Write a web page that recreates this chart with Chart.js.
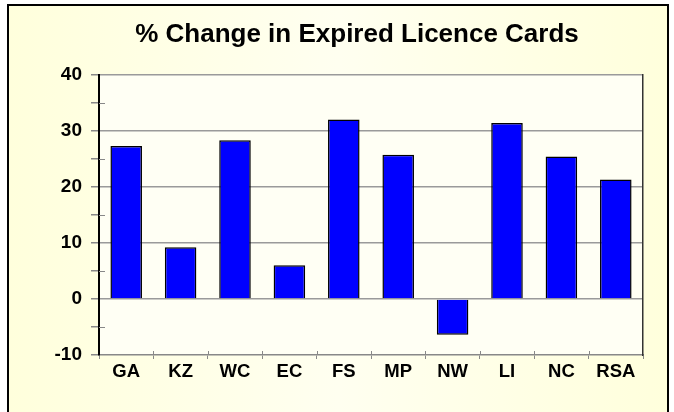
<!DOCTYPE html>
<html>
<head>
<meta charset="utf-8">
<script src="https://cdn.jsdelivr.net/npm/chart.js@4"></script>
<style>
  html, body { margin: 0; padding: 0; background: #fff; }
  #frame { position: absolute; left: 7px; top: 4px; width: 658px; height: 420px; border: 2px solid #000;
    background: linear-gradient(90deg, #ffffdc 0%, #fffff0 50%, #ffffdc 100%); }
  #wrap { position: absolute; left: 0; top: 0; width: 674px; height: 412px; }
</style>
</head>
<body>
<div id="frame"></div>
<div id="wrap"><canvas id="chart" width="674" height="412"></canvas></div>
<script>
const categories = ['GA', 'KZ', 'WC', 'EC', 'FS', 'MP', 'NW', 'LI', 'NC', 'RSA'];
const changeValues = [27.3, 9.2, 28.3, 6.0, 32.0, 25.7, -6.4, 31.4, 25.4, 21.3];
const yMin = -10, yMax = 40, yStep = 5, yLabelStep = 10;

const FONT = "'Liberation Sans', Arial, sans-serif";

// plot area fill and the tick marks that cross into the plot
const plotFrame = {
  id: 'plotFrame',
  beforeDraw(chart) {
    const { ctx, chartArea: a } = chart;
    ctx.save();
    ctx.fillStyle = '#fffff4';
    ctx.fillRect(a.left, a.top, a.right - a.left, a.bottom - a.top);
    ctx.restore();
  },
  afterDraw(chart) {
    const { ctx, chartArea: a, scales } = chart;
    ctx.save();
    ctx.strokeStyle = '#888';
    ctx.lineWidth = 1;
    ctx.beginPath();
    scales.y.ticks.forEach(t => {
      if (t.value % yLabelStep !== 0) {
        const y = Math.round(scales.y.getPixelForValue(t.value)) + 0.5;
        ctx.moveTo(a.left, y); ctx.lineTo(a.left + 6, y);
      }
    });
    for (let i = 1; i < categories.length; i++) {
      const x = Math.round((scales.x.getPixelForValue(i - 1) + scales.x.getPixelForValue(i)) / 2) + 0.5;
      ctx.moveTo(x, a.bottom); ctx.lineTo(x, a.bottom - 4);
    }
    ctx.stroke();
    ctx.restore();
  }
};

new Chart(document.getElementById('chart'), {
  type: 'bar',
  data: {
    labels: categories,
    datasets: [{
      data: changeValues,
      backgroundColor: '#0000ff',
      borderColor: '#000',
      borderWidth: 1.5,
      barPercentage: 0.58,
      categoryPercentage: 1
    }]
  },
  options: {
    responsive: false,
    animation: false,
    layout: { padding: { left: 52, right: 12, top: 0, bottom: 0 } },
    plugins: {
      legend: { display: false },
      tooltip: { enabled: false },
      title: {
        display: true,
        text: '% Change in Expired Licence Cards',
        color: '#000',
        font: { family: FONT, size: 26, weight: 'bold' },
        padding: { top: 19, bottom: 24.5 }
      }
    },
    scales: {
      x: {
        grid: { drawOnChartArea: false, drawTicks: true, tickLength: 4, color: '#888', offset: true },
        border: { color: '#888', width: 1.5 },
        ticks: { color: '#000', font: { family: FONT, size: 18.5, weight: 'bold' }, padding: 2, maxRotation: 0 },
        afterFit(s) { s.height = 57; }
      },
      y: {
        min: yMin, max: yMax,
        grid: {
          color: c => (c.tick && c.tick.value % yLabelStep === 0 && c.tick.value !== yMin) ? '#9a9a9a' : 'rgba(0,0,0,0)',
          tickColor: '#888',
          tickLength: 8,
          lineWidth: 1.5
        },
        border: { color: '#000', width: 2 },
        ticks: {
          stepSize: yStep,
          autoSkip: false,
          color: '#000',
          padding: 9,
          font: { family: FONT, size: 19, weight: 'bold' },
          callback: v => v % yLabelStep === 0 ? v : ''
        },
        afterFit(s) { s.width = 47; }
      },
      // right edge of the plot frame
      y2: {
        position: 'right',
        min: yMin, max: yMax,
        grid: { display: false },
        ticks: { display: false },
        border: { color: '#333', width: 1.5 },
        afterFit(s) { s.width = 19; }
      }
    }
  },
  plugins: [plotFrame]
});
</script>
</body>
</html>
